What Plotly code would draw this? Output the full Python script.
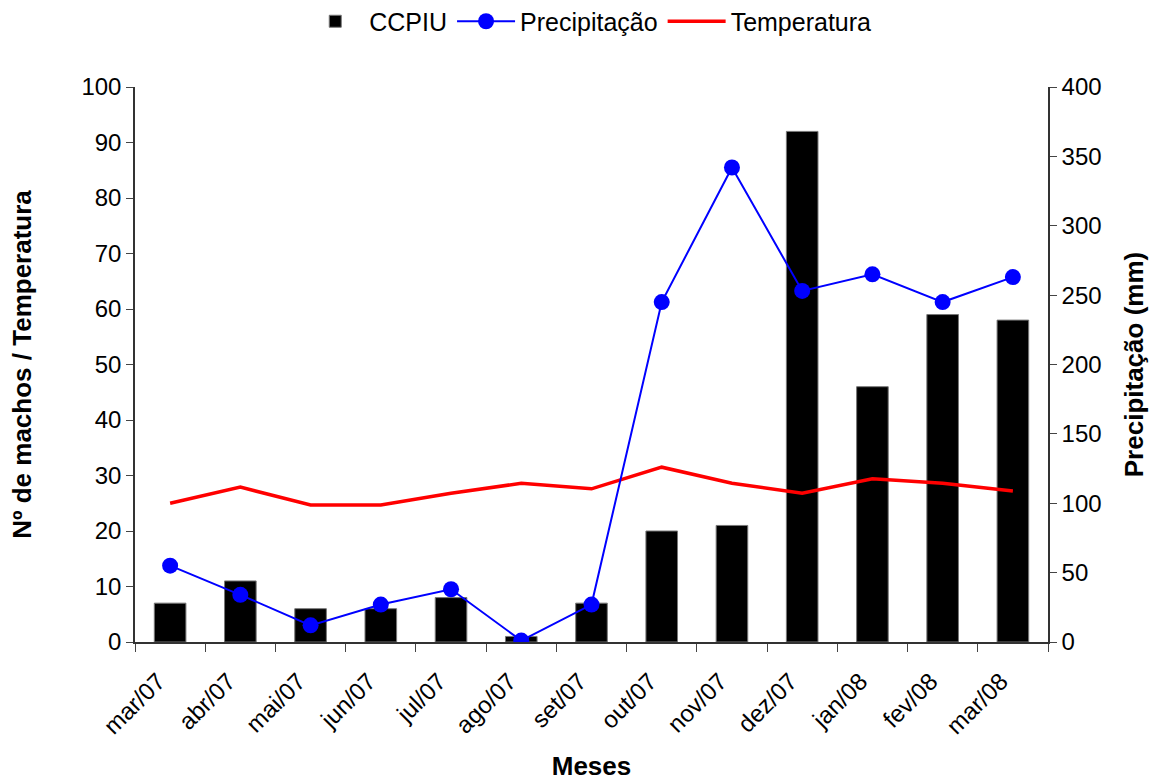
import plotly.graph_objects as go

meses = ["mar/07", "abr/07", "mai/07", "jun/07", "jul/07", "ago/07", "set/07",
         "out/07", "nov/07", "dez/07", "jan/08", "fev/08", "mar/08"]
ccpiu = [7, 11, 6, 6, 8, 1, 7, 20, 21, 92, 46, 59, 58]
precipitacao = [55, 34, 12, 27, 38, 1, 27, 245, 342, 253, 265, 245, 263]
temperatura = [25.0, 27.9, 24.7, 24.7, 26.8, 28.6, 27.6, 31.5, 28.6, 26.8, 29.4, 28.6, 27.2]

FONT = "Liberation Sans, Arial, sans-serif"

fig = go.Figure()
fig.add_trace(go.Bar(
    x=meses, y=ccpiu, name="CCPIU",
    marker=dict(color="black", line=dict(color="#777777", width=1)),
    width=0.45, yaxis="y",
))
fig.add_trace(go.Scatter(
    x=meses, y=precipitacao, name="Precipitação", mode="lines+markers",
    line=dict(color="#0000FF", width=2),
    marker=dict(color="#0000FF", size=16),
    yaxis="y2",
))
fig.add_trace(go.Scatter(
    x=meses, y=temperatura, name="Temperatura", mode="lines",
    line=dict(color="#FF0000", width=3.5),
    yaxis="y",
))

fig.update_layout(
    width=1153, height=781,
    margin=dict(l=135, r=105, t=87, b=139, autoexpand=False),
    paper_bgcolor="white", plot_bgcolor="white",
    font=dict(family=FONT, size=24, color="black"),
    showlegend=True,
    legend=dict(orientation="h", x=0.497, xanchor="center", y=1.118, yanchor="middle",
                font=dict(size=25), traceorder="normal", itemwidth=58,
                tracegroupgap=0),
    xaxis=dict(
        type="category", tickangle=-45, ticks="outside", tickson="boundaries",
        ticklen=8, tickcolor="#444444", showline=True, linecolor="#333333",
        linewidth=1.5, showgrid=False, tickfont=dict(size=24), automargin=False,
        ticklabelstandoff=14, ticklabelshift=-12,
        title=dict(text="<b>Meses</b>", font=dict(size=26), standoff=22),
        range=[-0.5, 12.5],
    ),
    yaxis=dict(
        range=[0, 100], dtick=10, ticks="outside", ticklen=7, tickcolor="#444444",
        showline=True, linecolor="#333333", linewidth=1.5, showgrid=False,
        zeroline=False, tickfont=dict(size=24), automargin=False,
        title=dict(text="<b>Nº de machos / Temperatura</b>", font=dict(size=26), standoff=42),
    ),
    yaxis2=dict(
        range=[0, 400], dtick=50, ticks="outside", ticklen=7, tickcolor="#444444",
        overlaying="y", side="right", anchor="x",
        showline=True, linecolor="#333333", linewidth=1.5, showgrid=False,
        zeroline=False, tickfont=dict(size=24), automargin=False,
        title=dict(text="<b>Precipitação (mm)</b>", font=dict(size=26), standoff=24),
    ),
)

fig.write_html("out.html", config={"displayModeBar": False},
               post_script="document.body.style.margin='0';")
